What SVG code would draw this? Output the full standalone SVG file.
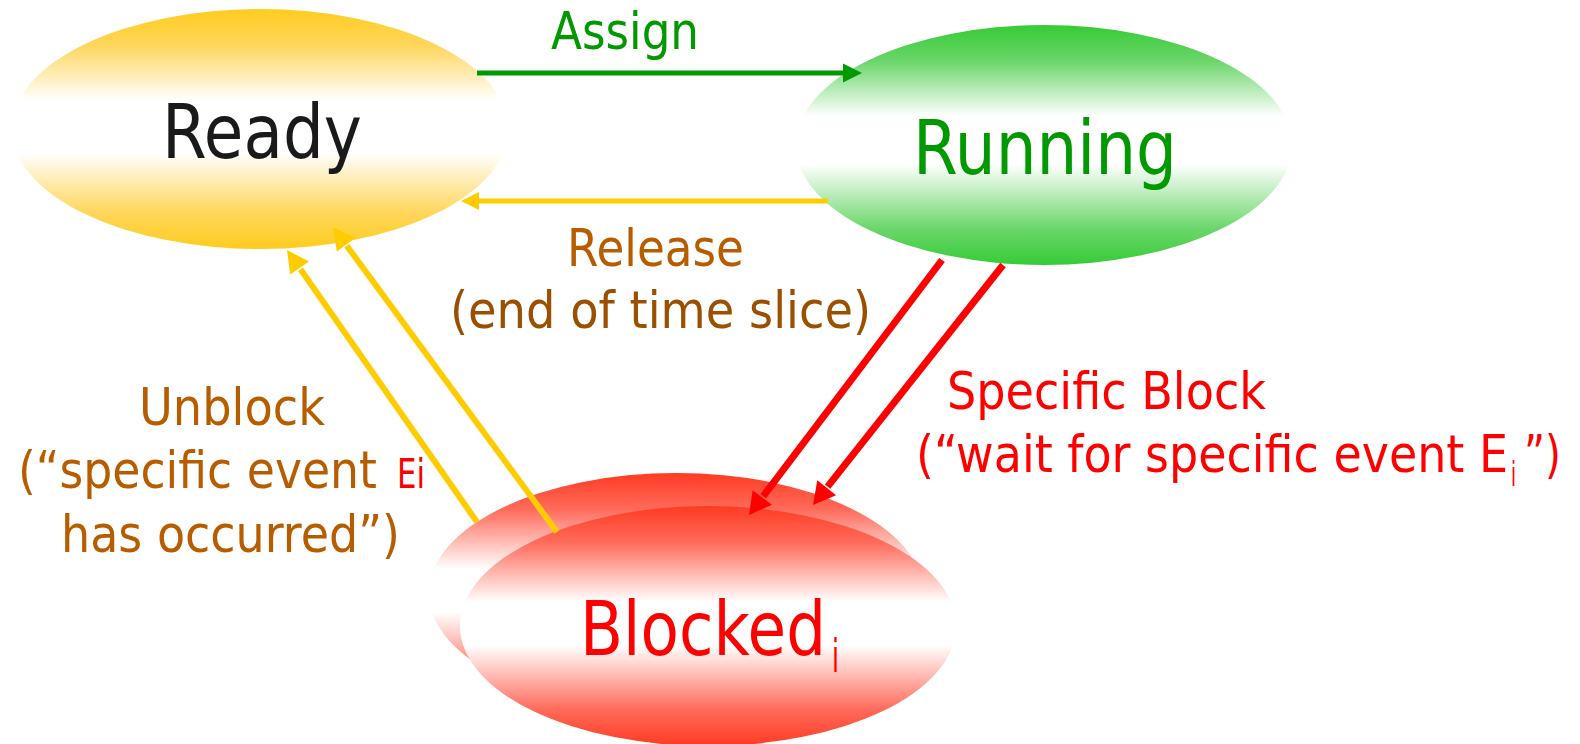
<svg xmlns="http://www.w3.org/2000/svg" width="1580" height="744" viewBox="0 0 1580 744">
  <defs>
    <linearGradient id="gReady" x1="0" y1="0" x2="0" y2="1">
      <stop offset="0" stop-color="#FFCC1E"/>
      <stop offset="0.15" stop-color="#FFD65A"/>
      <stop offset="0.38" stop-color="#FFFFFF"/>
      <stop offset="0.6" stop-color="#FFFFFF"/>
      <stop offset="0.85" stop-color="#FFD65A"/>
      <stop offset="1" stop-color="#FFCC1E"/>
    </linearGradient>
    <linearGradient id="gRunning" x1="0" y1="0" x2="0" y2="1">
      <stop offset="0" stop-color="#36CB36"/>
      <stop offset="0.15" stop-color="#6AD66A"/>
      <stop offset="0.38" stop-color="#FFFFFF"/>
      <stop offset="0.58" stop-color="#FFFFFF"/>
      <stop offset="0.85" stop-color="#6AD66A"/>
      <stop offset="1" stop-color="#36CB36"/>
    </linearGradient>
    <linearGradient id="gBlocked" x1="0" y1="0" x2="0" y2="1">
      <stop offset="0" stop-color="#FF3B22"/>
      <stop offset="0.15" stop-color="#FF6A5A"/>
      <stop offset="0.4" stop-color="#FFFFFF"/>
      <stop offset="0.58" stop-color="#FFFFFF"/>
      <stop offset="0.85" stop-color="#FF6A5A"/>
      <stop offset="1" stop-color="#FF3B22"/>
    </linearGradient>
  </defs>
  <style>
    text { font-family: "DejaVu Sans", "Liberation Sans", sans-serif; }
    .state { font-size: 74px; }
    .lbl { font-size: 52px; }
    .brown { fill: #B85C00; }
    .dbrown { fill: #9A5000; }
    .red { fill: #FF0000; }
    .green { fill: #009900; }
    .ln-green { stroke: #009900; stroke-width: 5; fill: none; }
    .ln-yellow { stroke: #FFCC00; stroke-width: 5; fill: none; }
    .ln-yellow-w { stroke: #FFCC00; stroke-width: 6; fill: none; }
    .ln-red { stroke: #FF0000; stroke-width: 7; fill: none; }
    .head-green { fill: #009900; }
    .head-yellow { fill: #FFCC00; }
    .head-red { fill: #FF0000; }
  </style>

  <!-- state nodes -->
  <g id="ready">
    <ellipse cx="260" cy="129" rx="248" ry="120" fill="url(#gReady)"/>
    <text class="state" x="162" y="158" fill="#1A1A1A" textLength="200" lengthAdjust="spacingAndGlyphs">Ready</text>
  </g>

  <g id="running">
    <ellipse cx="1044" cy="145" rx="248" ry="120" fill="url(#gRunning)"/>
    <text class="state green" x="913" y="174" textLength="264" lengthAdjust="spacingAndGlyphs">Running</text>
  </g>

  <g id="blocked">
    <!-- stacked pair: one Blocked state per event -->
    <ellipse cx="676" cy="593" rx="247" ry="120" fill="url(#gBlocked)"/>
    <ellipse cx="708" cy="626" rx="248" ry="120" fill="url(#gBlocked)"/>
    <text class="state red" x="580" y="655" textLength="246" lengthAdjust="spacingAndGlyphs">Blocked</text>
    <text class="red" x="832" y="672" font-size="46" textLength="7" lengthAdjust="spacingAndGlyphs">i</text>
  </g>

  <!-- transitions: shaft + triangular head -->
  <g id="connectors">
    <!-- Ready -> Running (Assign) -->
    <line class="ln-green" x1="477" y1="73" x2="846" y2="73"/>
    <polygon class="head-green" points="862,73 843,63.5 843,82.5"/>
    <!-- Running -> Ready (Release) -->
    <line class="ln-yellow" x1="828" y1="201" x2="477" y2="201"/>
    <polygon class="head-yellow" points="461,201 479,192 479,210"/>
    <!-- Blocked -> Ready (Unblock), two instances -->
    <line class="ln-yellow-w" x1="477" y1="522" x2="300.5" y2="269.3"/>
    <polygon class="head-yellow" points="287,250 309,261.4 290.2,274.6"/>
    <line class="ln-yellow-w" x1="557" y1="532" x2="346.8" y2="245.8"/>
    <polygon class="head-yellow" points="333,227 355.3,237.9 336.8,251.5"/>
    <!-- Running -> Blocked (Specific Block), two instances -->
    <line class="ln-red" x1="942" y1="260" x2="763.3" y2="496.2"/>
    <polygon class="head-red" points="749,515 771.9,504.7 752.7,490.2"/>
    <line class="ln-red" x1="1003" y1="265" x2="827.6" y2="486.6"/>
    <polygon class="head-red" points="813,505 836.1,495.2 817.3,480.3"/>
  </g>

  <!-- transition labels -->
  <g id="labels">
    <text class="lbl green" x="551" y="49" textLength="148" lengthAdjust="spacingAndGlyphs">Assign</text>

    <text class="lbl brown" x="567" y="266" textLength="177" lengthAdjust="spacingAndGlyphs">Release</text>
    <text class="lbl dbrown" x="450" y="328" textLength="421" lengthAdjust="spacingAndGlyphs">(end of time slice)</text>

    <text class="lbl brown" x="139" y="425" textLength="186" lengthAdjust="spacingAndGlyphs">Unblock</text>
    <text class="lbl brown" x="18" y="488" textLength="359" lengthAdjust="spacingAndGlyphs">(“specific event</text>
    <text class="red" x="397" y="488" font-size="40" textLength="28" lengthAdjust="spacingAndGlyphs">Ei</text>
    <text class="lbl brown" x="61" y="552" textLength="339" lengthAdjust="spacingAndGlyphs">has occurred”)</text>

    <text class="lbl red" x="947" y="409" textLength="319" lengthAdjust="spacingAndGlyphs">Specific Block</text>
    <text class="lbl red" x="916" y="472" textLength="592" lengthAdjust="spacingAndGlyphs">(“wait for specific event E</text>
    <text class="red" x="1511" y="486" font-size="34" textLength="5" lengthAdjust="spacingAndGlyphs">i</text>
    <text class="lbl red" x="1524" y="472" textLength="37" lengthAdjust="spacingAndGlyphs">”)</text>
  </g>
</svg>
